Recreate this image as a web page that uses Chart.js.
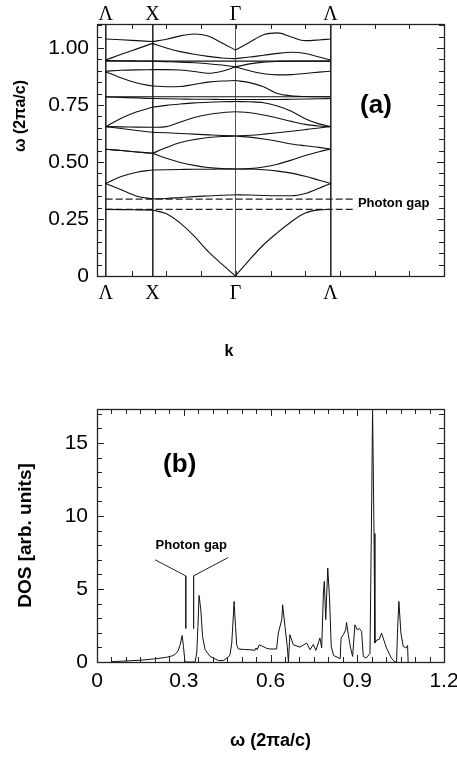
<!DOCTYPE html>
<html>
<head>
<meta charset="utf-8">
<script src="https://cdn.jsdelivr.net/npm/chart.js@4.4.0/dist/chart.umd.min.js"></script>
<style>
    html, body { margin: 0; padding: 0; background: #fff; }
    #wrap { position: relative; width: 457px; height: 757px; }
    canvas { position: absolute; left: 0; }
    #bandChart { top: 0; }
    #dosChart { top: 380px; }
</style>
</head>
<body>
<div id="wrap">
    <canvas id="bandChart" width="457" height="380"></canvas>
    <canvas id="dosChart" width="457" height="377"></canvas>
</div>
<script>
// ---- (a) photonic band structure ----
const kGrid = [0.025, 0.07, 0.115, 0.16, 0.20, 0.24, 0.28, 0.32, 0.36, 0.399, 0.44, 0.48, 0.52, 0.56, 0.60, 0.64, 0.673];
const symK = [0.025, 0.16, 0.399, 0.673];
const symLabels = ['Λ', 'X', 'Γ', 'Λ'];

const band01 = [0.292, 0.291, 0.290, 0.289, 0.273, 0.232, 0.175, 0.108, 0.052, 0.000, 0.072, 0.137, 0.190, 0.238, 0.276, 0.290, 0.292];
const band02 = [0.406, 0.378, 0.350, 0.338, 0.340, 0.344, 0.348, 0.351, 0.354, 0.356, 0.355, 0.353, 0.352, 0.352, 0.362, 0.385, 0.406];
const band03 = [0.406, 0.436, 0.455, 0.465, 0.466, 0.467, 0.468, 0.468, 0.469, 0.469, 0.469, 0.466, 0.460, 0.451, 0.437, 0.420, 0.406];
const band04 = [0.556, 0.550, 0.544, 0.538, 0.516, 0.498, 0.485, 0.476, 0.471, 0.469, 0.471, 0.478, 0.490, 0.508, 0.528, 0.545, 0.557];
const band05 = [0.556, 0.550, 0.544, 0.538, 0.563, 0.585, 0.598, 0.607, 0.612, 0.614, 0.609, 0.601, 0.591, 0.579, 0.571, 0.564, 0.557];
const band06 = [0.655, 0.647, 0.638, 0.630, 0.628, 0.625, 0.622, 0.619, 0.616, 0.614, 0.617, 0.622, 0.628, 0.635, 0.642, 0.649, 0.655];
const band07 = [0.655, 0.654, 0.653, 0.652, 0.655, 0.675, 0.695, 0.708, 0.716, 0.720, 0.716, 0.706, 0.693, 0.678, 0.665, 0.658, 0.655];
const band08 = [0.655, 0.692, 0.720, 0.740, 0.748, 0.754, 0.759, 0.762, 0.764, 0.765, 0.764, 0.760, 0.745, 0.722, 0.690, 0.667, 0.655];
const band09 = [0.786, 0.786, 0.786, 0.786, 0.786, 0.786, 0.786, 0.786, 0.786, 0.786, 0.786, 0.786, 0.786, 0.786, 0.786, 0.786, 0.786];
const band10 = [0.785, 0.783, 0.781, 0.778, 0.777, 0.776, 0.775, 0.775, 0.774, 0.774, 0.774, 0.774, 0.774, 0.775, 0.776, 0.777, 0.778];
const band11 = [0.896, 0.868, 0.846, 0.833, 0.830, 0.831, 0.840, 0.850, 0.855, 0.857, 0.848, 0.830, 0.800, 0.790, 0.787, 0.786, 0.786];
const band12 = [0.898, 0.902, 0.904, 0.905, 0.905, 0.903, 0.897, 0.889, 0.898, 0.917, 0.930, 0.938, 0.941, 0.942, 0.942, 0.942, 0.942];
const band13 = [0.945, 0.944, 0.943, 0.942, 0.940, 0.938, 0.935, 0.931, 0.925, 0.917, 0.900, 0.887, 0.882, 0.883, 0.888, 0.894, 0.898];
const band14 = [0.942, 0.942, 0.942, 0.942, 0.942, 0.942, 0.942, 0.942, 0.942, 0.942, 0.942, 0.942, 0.942, 0.942, 0.942, 0.942, 0.942];
const band15 = [0.947, 0.972, 0.996, 1.020, 1.000, 0.984, 0.972, 0.963, 0.956, 0.953, 0.960, 0.968, 0.976, 0.981, 0.976, 0.960, 0.947];
const band16 = [1.039, 1.036, 1.032, 1.028, 1.038, 1.053, 1.061, 1.052, 1.022, 0.991, 1.025, 1.058, 1.066, 1.048, 1.032, 1.035, 1.039];

const gapK = [0.025, 0.738];
const gapTop = 0.337;
const gapBottom = 0.292;
const yTicksA = [0, 0.25, 0.5, 0.75, 1.0];

// ---- (b) density of states ----
const omega = [0.05, 0.10, 0.15, 0.20, 0.24, 0.26, 0.27, 0.28, 0.288, 0.2945, 0.299, 0.304,
    0.339, 0.345, 0.349, 0.353, 0.359, 0.365, 0.374, 0.391, 0.42, 0.437, 0.455, 0.46, 0.466, 0.472, 0.474, 0.479, 0.483, 0.489,
    0.51, 0.529, 0.546, 0.55, 0.554, 0.561, 0.57, 0.585, 0.598, 0.621, 0.627, 0.639, 0.642, 0.65, 0.658, 0.662, 0.667,
    0.679, 0.702, 0.725, 0.737, 0.748, 0.757, 0.771, 0.777, 0.783, 0.786, 0.791, 0.798, 0.804, 0.81, 0.818,
    0.841, 0.844, 0.852, 0.86, 0.863, 0.869, 0.877, 0.884, 0.892, 0.90, 0.907, 0.915, 0.921, 0.93, 0.944,
    0.95, 0.953, 0.958, 0.961, 0.967, 0.976, 0.984, 0.992, 1.001, 1.018, 1.03, 1.036, 1.039, 1.044, 1.051, 1.059, 1.068, 1.074, 1.076];
const dos = [0.02, 0.07, 0.12, 0.22, 0.32, 0.42, 0.52, 0.75, 1.2, 1.82, 1.07, 0.0,
    0.0, 0.62, 2.44, 4.56, 3.58, 1.75, 0.84, 0.38, 0.1, 0.1, 0.35, 0.5, 1.3, 3.36, 4.15, 2.44, 1.18, 0.89,
    0.86, 0.84, 0.8, 0.96, 0.84, 1.18, 1.1, 0.95, 0.89, 0.89, 1.98, 2.9, 3.92, 2.44, 1.07, 0.0, 1.87,
    1.18, 1.02, 1.3, 0.84, 1.2, 0.8, 1.64, 0.96, 4.72, 5.52, 2.9, 6.44, 4.4, 1.07, 0.45,
    0.23, 1.64, 1.87, 2.2, 2.71, 1.87, 0.96, 0.38, 2.55, 2.2, 2.3, 2.1, 0.38, 0.27, 0.57,
    11.1, 17.4, 8.8, 1.3, 1.5, 1.55, 1.98, 1.5, 0.96, 0.27, 0.0, 0.0, 1.98, 4.15, 1.98, 1.07, 0.96, 1.13, 0.0];
const xTicksB = [0, 0.3, 0.6, 0.9, 1.2];
const yTicksB = [0, 5, 10, 15];

// "Photon gap" bracket in (b)
const bracketLeftW = [0.201, 0.307, 0.307];
const bracketLeftD = [7.0, 5.9, 2.3];
const bracketRightW = [0.454, 0.334, 0.334];
const bracketRightD = [7.16, 5.9, 2.3];

const SANS = '"Liberation Sans", Arial, sans-serif';
const SERIF = '"Liberation Serif", "Times New Roman", serif';
Chart.defaults.font.family = SANS;
Chart.defaults.color = '#000';

function pairs(xs, ys) {
    return xs.map((x, i) => ({ x: x, y: ys[i] }));
}

// inward tick marks on all four sides plus the frame
function makeFrame(cfg) {
    return {
        id: 'frame',
        afterDraw(chart) {
            const { ctx, chartArea: a } = chart;
            const xs = chart.scales.x, ys = chart.scales.y;
            const isMajor = (v, m) => m && Math.abs(v / m - Math.round(v / m)) < 1e-6;
            ctx.save();
            ctx.strokeStyle = '#222';
            ctx.lineWidth = 1;
            ctx.beginPath();
            const nx = Math.round((xs.max - xs.min) / cfg.xStep);
            for (let i = 1; i < nx; i++) {
                const v = xs.min + i * cfg.xStep;
                const p = Math.round(xs.getPixelForValue(v)) + 0.5;
                const len = isMajor(v, cfg.xMajor) ? cfg.majorLen : cfg.len;
                ctx.moveTo(p, a.bottom); ctx.lineTo(p, a.bottom - len);
                ctx.moveTo(p, a.top); ctx.lineTo(p, a.top + len);
            }
            const ny = Math.floor((ys.max - ys.min) / cfg.yStep + 1e-6);
            for (let i = 1; i <= ny; i++) {
                const v = ys.min + i * cfg.yStep;
                const p = Math.round(ys.getPixelForValue(v)) + 0.5;
                const len = isMajor(v, cfg.yMajor) ? cfg.majorLen : cfg.len;
                ctx.moveTo(a.left, p); ctx.lineTo(a.left + len, p);
                ctx.moveTo(a.right, p); ctx.lineTo(a.right - len, p);
            }
            ctx.stroke();
            ctx.lineWidth = 1.3;
            ctx.strokeRect(Math.round(a.left) + 0.5, Math.round(a.top) + 0.5, Math.round(a.width), Math.round(a.height));
            ctx.restore();
        }
    };
}

// free text: data coordinates when data is true, canvas pixels otherwise
function makeNotes(items) {
    return {
        id: 'notes',
        afterDraw(chart) {
            const ctx = chart.ctx;
            items.forEach(it => {
                const px = it.data ? chart.scales.x.getPixelForValue(it.x) : it.x;
                const py = it.data ? chart.scales.y.getPixelForValue(it.y) : it.y;
                ctx.save();
                ctx.translate(px, py);
                if (it.rotate) ctx.rotate(it.rotate);
                ctx.font = it.font;
                ctx.fillStyle = '#000';
                ctx.textAlign = it.align || 'center';
                ctx.textBaseline = 'middle';
                ctx.fillText(it.text, 0, 0);
                ctx.restore();
            });
        }
    };
}

// split every band at X and Γ so the kinks stay sharp
const bands = [band01, band02, band03, band04, band05, band06, band07, band08,
    band09, band10, band11, band12, band13, band14, band15, band16];
const breaks = symK.map(k => kGrid.indexOf(k));
const bandSets = [];
bands.forEach(band => {
    for (let s = 0; s < breaks.length - 1; s++) {
        const ks = kGrid.slice(breaks[s], breaks[s + 1] + 1);
        const vs = band.slice(breaks[s], breaks[s + 1] + 1);
        bandSets.push({
            data: pairs(ks, vs),
            borderColor: '#111',
            borderWidth: 1.1,
            pointRadius: 0,
            cubicInterpolationMode: 'monotone',
            fill: false
        });
    }
});
[gapTop, gapBottom].forEach(v => {
    bandSets.push({
        data: pairs(gapK, [v, v]),
        borderColor: '#222',
        borderWidth: 1.2,
        borderDash: [7, 3],
        pointRadius: 0,
        fill: false
    });
});

const symAxis = {
    type: 'linear', min: 0, max: 1,
    afterBuildTicks: s => { s.ticks = symK.map(v => ({ value: v })); },
    ticks: {
        callback: (v, i) => symLabels[i],
        font: { family: SERIF, size: 20 },
        color: '#000', maxRotation: 0, autoSkip: false
    },
    border: { display: false }
};

new Chart(document.getElementById('bandChart'), {
    type: 'line',
    data: { datasets: bandSets },
    options: {
        responsive: false,
        animation: false,
        layout: { padding: { left: 0, right: 13, top: 0, bottom: 0 } },
        plugins: { legend: { display: false }, tooltip: { enabled: false } },
        scales: {
            x: Object.assign({}, symAxis, {
                position: 'bottom',
                afterFit: s => { s.height = 104; s.paddingLeft = 0; s.paddingRight = 0; },
                ticks: Object.assign({}, symAxis.ticks, { padding: 6 }),
                grid: {
                    drawTicks: false,
                    color: c => (c.index === 2 ? '#555' : '#2a2a2a'),
                    lineWidth: c => (c.index === 2 ? 1 : 1.6)
                }
            }),
            x2: Object.assign({}, symAxis, {
                position: 'top',
                afterFit: s => { s.height = 24; s.paddingLeft = 0; s.paddingRight = 0; },
                ticks: Object.assign({}, symAxis.ticks, { padding: -3 }),
                grid: { display: false, drawTicks: false }
            }),
            y: {
                type: 'linear', min: 0, max: 1.105,
                afterBuildTicks: s => { s.ticks = yTicksA.map(v => ({ value: v })); },
                afterFit: s => { s.width = 97; s.paddingTop = 0; s.paddingBottom = 0; },
                ticks: {
                    callback: v => (v === 0 ? '0' : v.toFixed(2)),
                    font: { size: 21 }, padding: 8
                },
                grid: { display: false, drawTicks: false },
                border: { display: false }
            }
        }
    },
    plugins: [
        makeFrame({ xStep: 0.1, yStep: 0.05, yMajor: 0.25, len: 5, majorLen: 7 }),
        makeNotes([
            { text: '(a)', data: true, x: 0.804, y: 0.746, font: 'bold 26px ' + SANS },
            { text: 'Photon gap', data: true, x: 0.752, y: 0.318, align: 'left', font: 'bold 13px ' + SANS },
            { text: 'k', x: 229, y: 352, font: 'bold 16px ' + SANS },
            { text: 'ω (2πa/c)', x: 21, y: 116, rotate: -Math.PI / 2, font: 'bold 16px ' + SANS }
        ])
    ]
});

new Chart(document.getElementById('dosChart'), {
    type: 'line',
    data: {
        datasets: [
            { data: pairs(omega, dos), borderColor: '#111', borderWidth: 1, pointRadius: 0, tension: 0, fill: false },
            { data: pairs(bracketLeftW, bracketLeftD), borderColor: '#222', borderWidth: 1, pointRadius: 0, fill: false },
            { data: pairs(bracketRightW, bracketRightD), borderColor: '#222', borderWidth: 1, pointRadius: 0, fill: false }
        ]
    },
    options: {
        responsive: false,
        animation: false,
        layout: { padding: { left: 0, right: 13, top: 29, bottom: 0 } },
        plugins: { legend: { display: false }, tooltip: { enabled: false } },
        scales: {
            x: {
                type: 'linear', min: 0, max: 1.2,
                afterBuildTicks: s => { s.ticks = xTicksB.map(v => ({ value: v })); },
                afterFit: s => { s.height = 95; s.paddingLeft = 0; s.paddingRight = 0; },
                ticks: {
                    callback: v => (v === 0 ? '0' : v.toFixed(1)),
                    font: { size: 21 }, padding: 7, maxRotation: 0, autoSkip: false
                },
                grid: { display: false, drawTicks: false },
                border: { display: false },
                title: {
                    display: true, text: 'ω (2πa/c)',
                    font: { size: 18, weight: 'bold' },
                    padding: { top: 0, bottom: 5 }
                }
            },
            y: {
                type: 'linear', min: 0, max: 17.33,
                afterBuildTicks: s => { s.ticks = yTicksB.map(v => ({ value: v })); },
                afterFit: s => { s.width = 97; s.paddingTop = 0; s.paddingBottom = 0; },
                ticks: { font: { size: 21 }, padding: 9 },
                grid: { display: false, drawTicks: false },
                border: { display: false },
                title: {
                    display: true, text: 'DOS [arb. units]',
                    font: { size: 19, weight: 'bold' },
                    padding: { top: 14, bottom: 0 }
                }
            }
        }
    },
    plugins: [
        makeFrame({ xStep: 0.05, xMajor: 0.3, yStep: 1, yMajor: 5, len: 5, majorLen: 7 }),
        makeNotes([
            { text: '(b)', data: true, x: 0.286, y: 13.5, font: 'bold 26px ' + SANS },
            { text: 'Photon gap', data: true, x: 0.326, y: 7.98, font: 'bold 13px ' + SANS }
        ])
    ]
});
</script>
</body>
</html>
